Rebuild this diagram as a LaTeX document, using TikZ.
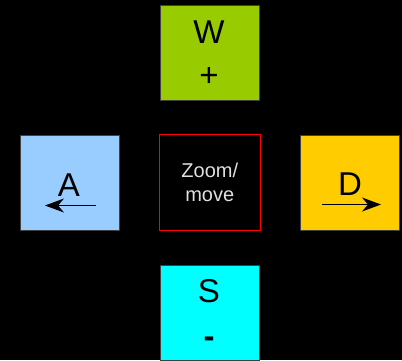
\documentclass[tikz,border=0pt]{standalone}
\usepackage{fontspec}
\setmainfont{Liberation Sans}
\usetikzlibrary{arrows.meta}
\definecolor{wgreen}{RGB}{153,204,0}
\definecolor{ablue}{RGB}{153,204,255}
\definecolor{dyellow}{RGB}{255,204,0}
\definecolor{scyan}{RGB}{0,255,255}
\begin{document}
\begin{tikzpicture}[x=1pt,y=-1pt,
  keybox/.style={draw=black!75, line width=0.8pt, minimum width=99pt, minimum height=95pt, inner sep=0pt, anchor=north west},
  bigtxt/.style={font=\fontsize{33}{40}\selectfont, text=black, inner sep=0pt, anchor=base},
  centerbox/.style={draw=red, line width=1pt, fill=black, minimum width=101.5pt, minimum height=96.5pt, inner sep=0pt, anchor=north west, align=center, text=black!12, font=\fontsize{20}{24.3}\selectfont},
  dirarrow/.style={line width=1.4pt, -{Stealth[length=19pt,width=14pt,inset=6pt]}}
]
\fill[black] (0,0) rectangle (402,360);
\useasboundingbox (0,0) rectangle (402,360);

\node[keybox, fill=wgreen] (w) at (159.5,4.5) {};
\node[keybox, fill=ablue] (a) at (19.5,134.5) {};
\node[centerbox] (c) at (158.5,133.5) {Zoom/\\move};
\node[keybox, fill=dyellow] (d) at (300,134.5) {};
\node[keybox, fill=scyan] (s) at (159.5,264.5) {};

\node[bigtxt] (wl) at (209,43) {W};
\node[bigtxt] (wp) at (209,86) {+};
\node[bigtxt] (al) at (69,196) {A};
\node[bigtxt] (dl) at (350,195) {D};
\node[bigtxt] (sl) at (209,302) {S};
\node[bigtxt, font=\fontsize{33}{40}\selectfont\bfseries] (sm) at (209,347) {-};

\coordinate (a1) at (96,205.5);
\coordinate (a2) at (45,205.5);
\coordinate (d1) at (322,204.5);
\coordinate (d2) at (381,204.5);
\draw[dirarrow] (a1) -- (a2);
\draw[dirarrow] (d1) -- (d2);
\end{tikzpicture}
\end{document}
